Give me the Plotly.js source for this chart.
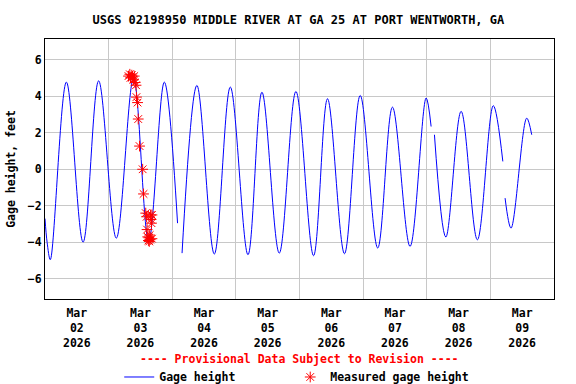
<!DOCTYPE html>
<html>
<head>
<meta charset="utf-8">
<script src="https://cdn.plot.ly/plotly-3.0.1.min.js"></script>
<style>
  html, body { margin: 0; padding: 0; background: #fff; }
  #chart { width: 576px; height: 384px; }
</style>
</head>
<body>
<div id="chart"></div>
<script>
// Gage height, feet (15-min record at highs/lows; null = gap)
const gageTimes = [
  '2026-03-02 00:00', '2026-03-02 00:48', '2026-03-02 02:00', '2026-03-02 08:04', '2026-03-02 14:22',
  '2026-03-02 20:14', '2026-03-03 02:54', '2026-03-03 09:24', '2026-03-03 15:06', '2026-03-03 21:00',
  '2026-03-04 02:00', '2026-03-04 02:50', '2026-03-04 03:42', '2026-03-04 09:18', '2026-03-04 15:52',
  '2026-03-04 21:54', '2026-03-05 04:34', '2026-03-05 09:50', '2026-03-05 16:22', '2026-03-05 22:39',
  '2026-03-06 05:18', '2026-03-06 10:34', '2026-03-06 16:58', '2026-03-06 22:54', '2026-03-07 05:30',
  '2026-03-07 11:04', '2026-03-07 17:42', '2026-03-07 23:46', '2026-03-08 01:39', '2026-03-08 02:15',
  '2026-03-08 02:54', '2026-03-08 07:12', '2026-03-08 12:58', '2026-03-08 19:06', '2026-03-09 01:06',
  '2026-03-09 04:42', '2026-03-09 05:05', '2026-03-09 05:33', '2026-03-09 07:48', '2026-03-09 13:42',
  '2026-03-09 15:36'
];
const gageValues = [
  -2.7, -4.0, -4.95, 4.77, -3.99,
  4.84, -3.77, 5.0, -3.95, 4.77,
  -2.95, null, -4.59, 4.59, -4.64,
  4.5, -4.68, 4.22, -4.59, 4.26,
  -4.73, 3.86, -4.62, 4.04, -4.31,
  3.4, -4.22, 3.9, 2.34, null,
  1.89, -3.71, 3.17, -3.86, 3.48,
  0.43, null, -1.58, -3.22, 2.8,
  1.89
];

// Field measurements on Mar 03
const measuredTimes = [
  '2026-03-03 07:30', '2026-03-03 08:00', '2026-03-03 08:15', '2026-03-03 08:45', '2026-03-03 09:00',
  '2026-03-03 09:20', '2026-03-03 09:40', '2026-03-03 10:00', '2026-03-03 10:20', '2026-03-03 10:30',
  '2026-03-03 10:55', '2026-03-03 11:10', '2026-03-03 11:40', '2026-03-03 12:50', '2026-03-03 13:10',
  '2026-03-03 14:00', '2026-03-03 14:20', '2026-03-03 14:30', '2026-03-03 14:45', '2026-03-03 15:00',
  '2026-03-03 15:10', '2026-03-03 15:20', '2026-03-03 15:30', '2026-03-03 15:40', '2026-03-03 15:50',
  '2026-03-03 16:00', '2026-03-03 16:10', '2026-03-03 16:20', '2026-03-03 16:20'
];
const measuredValues = [
  5.1, 5.2, 5.0, 5.15, 5.05,
  4.9, 5.1, 4.75, 4.6, 3.95,
  3.65, 2.75, 1.27, 0.0, -1.35,
  -2.4, -2.6, -3.3, -3.7, -3.9,
  -3.75, -3.95, -3.6, -3.85, -2.5,
  -2.75, -2.95, -2.5, -3.8
];

const yTicks = [-6, -4, -2, 0, 2, 4, 6];

const FONT = '"DejaVu Sans Mono", monospace';

const traces = [
  {
    x: gageTimes,
    y: gageValues,
    type: 'scatter',
    mode: 'lines',
    name: 'Gage height',
    connectgaps: false,
    legendwidth: 126,
    line: { color: '#0000ff', width: 1, shape: 'spline', smoothing: 1 }
  },
  {
    x: measuredTimes,
    y: measuredValues,
    type: 'scatter',
    mode: 'markers',
    name: 'Measured gage height',
    legendwidth: 160,
    marker: { symbol: 'asterisk-open', size: 9, color: '#ff0000', line: { color: '#ff0000', width: 1 } }
  }
];

const layout = {
  width: 576,
  height: 384,
  paper_bgcolor: '#fff',
  plot_bgcolor: '#fff',
  font: { family: FONT, size: 11.5, color: '#000', weight: 'bold' },
  margin: { l: 45, r: 22, t: 39, b: 85, pad: 0 },
  title: {
    text: 'USGS 02198950 MIDDLE RIVER AT GA 25 AT PORT WENTWORTH, GA',
    font: { family: FONT, size: 12, weight: 'bold', color: '#000' },
    x: 0.518, xanchor: 'center',
    y: 0.948, yanchor: 'middle'
  },
  xaxis: {
    type: 'date',
    range: ['2026-03-02 00:00', '2026-03-10 00:00'],
    tick0: '2026-03-02',
    dtick: 86400000,
    ticklabelmode: 'period',
    tickformat: '%b<br>%d<br>%Y',
    ticks: '',
    ticklabelstandoff: 3,
    showgrid: true,
    gridcolor: '#c8c8c8',
    gridwidth: 1,
    showline: true,
    linecolor: '#000',
    linewidth: 1,
    mirror: true,
    zeroline: false,
    tickfont: { family: FONT, size: 11.5, weight: 'bold', color: '#000' }
  },
  yaxis: {
    range: [-7.1, 7.13],
    tickvals: yTicks,
    ticks: '',
    showgrid: true,
    gridcolor: '#c8c8c8',
    gridwidth: 1,
    showline: true,
    linecolor: '#000',
    linewidth: 1,
    mirror: true,
    zeroline: false,
    tickfont: { family: FONT, size: 11.5, weight: 'bold', color: '#000' },
    title: {
      text: 'Gage height, feet',
      font: { family: FONT, size: 11.5, weight: 'bold', color: '#000' },
      standoff: 9
    }
  },
  showlegend: true,
  legend: {
    orientation: 'h',
    xref: 'container', yref: 'container',
    x: 0.207, xanchor: 'left',
    y: 0.056, yanchor: 'top',
    font: { family: FONT, size: 11.5, weight: 'bold', color: '#000' },
    bgcolor: 'rgba(0,0,0,0)'
  },
  annotations: [
    {
      text: '---- Provisional Data Subject to Revision ----',
      xref: 'paper', yref: 'paper',
      x: 0.5, y: -0.2308,
      xanchor: 'center', yanchor: 'middle',
      showarrow: false,
      font: { family: FONT, size: 11.5, weight: 'bold', color: '#ff0000' }
    }
  ]
};

Plotly.newPlot('chart', traces, layout, { staticPlot: true, displayModeBar: false });
</script>
</body>
</html>
